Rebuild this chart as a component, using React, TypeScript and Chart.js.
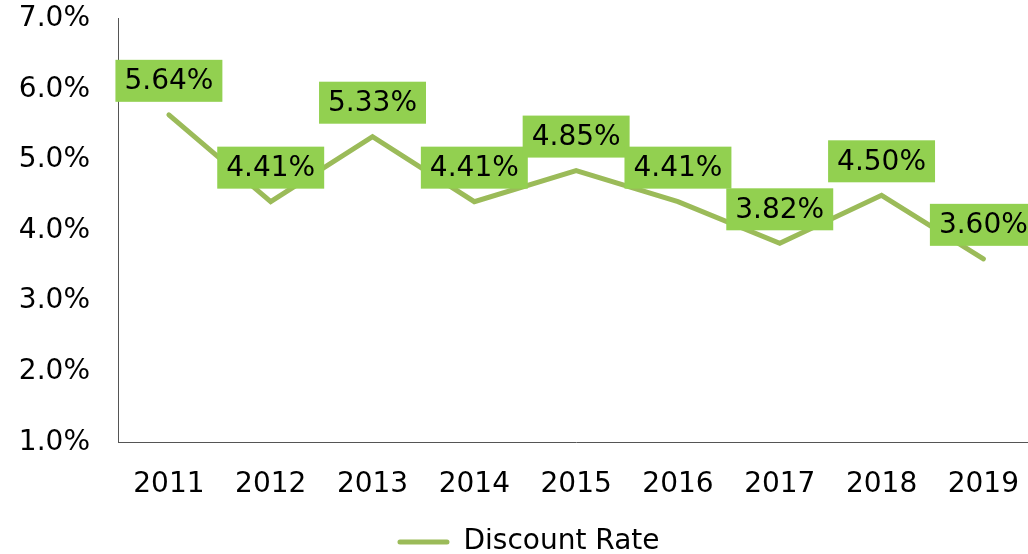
import React, { useEffect, useRef } from "react";
import { Chart, registerables } from "chart.js";

Chart.register(...registerables);

const categories = ["2011", "2012", "2013", "2014", "2015", "2016", "2017", "2018", "2019"];
const discountRate = [5.64, 4.41, 5.33, 4.41, 4.85, 4.41, 3.82, 4.5, 3.6];
const seriesName = "Discount Rate";

const FONT = "'DejaVu Sans', Verdana, sans-serif";
const LINE_COLOR = "#9BBB59";
const LABEL_BG = "#92D050";

const labelPlugin = {
  id: "boxLabels",
  afterDatasetsDraw(chart: any) {
    const ctx = chart.ctx;
    const meta = chart.getDatasetMeta(0);
    const data = chart.data.datasets[0].data as number[];
    ctx.save();
    ctx.font = `28px ${FONT}`;
    ctx.textAlign = "center";
    ctx.textBaseline = "middle";
    meta.data.forEach((el: any, i: number) => {
      const text = data[i].toFixed(2) + "%";
      const w = ctx.measureText(text).width + 18;
      const h = 42;
      const cx = el.x;
      const cy = el.y - 34;
      ctx.fillStyle = LABEL_BG;
      ctx.fillRect(cx - w / 2, cy - h / 2, w, h);
      ctx.fillStyle = "#000";
      ctx.fillText(text, cx, cy + 1);
    });
    ctx.restore();
  },
};

export default function App() {
  const ref = useRef<HTMLCanvasElement>(null);
  useEffect(() => {
    if (!ref.current) return;
    const chart = new Chart(ref.current, {
      type: "line",
      data: {
        labels: categories,
        datasets: [
          {
            label: seriesName,
            data: discountRate,
            borderColor: LINE_COLOR,
            backgroundColor: LINE_COLOR,
            borderWidth: 5,
            pointRadius: 0,
            tension: 0,
            borderCapStyle: "round",
            borderJoinStyle: "miter",
          },
        ],
      },
      options: {
        animation: false,
        responsive: true,
        maintainAspectRatio: false,
        layout: { padding: { top: 4, left: 12, right: 0, bottom: 0 } },
        scales: {
          x: {
            offset: true,
            grid: { display: false, drawTicks: false },
            border: { display: true, color: "#555", width: 1 },
            ticks: { color: "#000", font: { family: FONT, size: 28 }, padding: 26 },
          },
          y: {
            min: 1,
            max: 7,
            afterFit: (scale: any) => {
              scale.width = 106;
            },
            grid: { display: false, drawTicks: false },
            border: { display: true, color: "#555", width: 1 },
            ticks: {
              stepSize: 1,
              color: "#000",
              font: { family: FONT, size: 28 },
              padding: 28,
              callback: (v: any) => Number(v).toFixed(1) + "%",
            },
          },
        },
        plugins: {
          tooltip: { enabled: false },
          legend: {
            position: "bottom",
            labels: {
              color: "#000",
              font: { family: FONT, size: 28 },
              boxWidth: 52,
              boxHeight: 5,
              padding: 0,
              useBorderRadius: true,
              borderRadius: 2.5,
              generateLabels: () => [
                {
                  text: seriesName,
                  fillStyle: LINE_COLOR,
                  strokeStyle: LINE_COLOR,
                  lineWidth: 0,
                  fontColor: "#000",
                  hidden: false,
                  datasetIndex: 0,
                  borderRadius: 2.5,
                },
              ],
            },
          },
        },
      },
      plugins: [labelPlugin],
    });
    return () => chart.destroy();
  }, []);
  return (
    <div style={{ position: "fixed", left: 0, top: -26, width: 1045, height: 592 }}>
      <canvas ref={ref} />
    </div>
  );
}
